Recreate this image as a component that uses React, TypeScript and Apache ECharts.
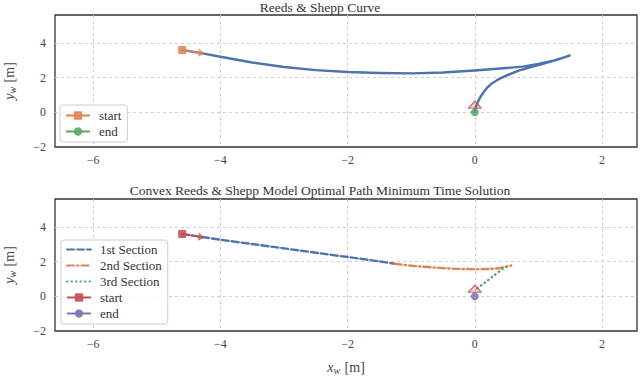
import React, { useEffect, useRef } from "react";
import * as echarts from "echarts";

// ---- data ----
const topCurveX = [-4.6, -4.3, -4.0, -3.5, -3.0, -2.5, -2.0, -1.5, -1.0, -0.5, 0.0, 0.25, 0.5, 0.75, 1.0, 1.25, 1.49, 1.3, 1.1, 0.9, 0.7, 0.5, 0.38, 0.28, 0.2, 0.14, 0.09, 0.05, 0.02, 0.005, 0.0];
const topCurveY = [3.6, 3.42, 3.21, 2.88, 2.62, 2.44, 2.33, 2.27, 2.25, 2.3, 2.42, 2.49, 2.56, 2.64, 2.79, 3.0, 3.28, 3.04, 2.83, 2.63, 2.42, 2.13, 1.92, 1.7, 1.45, 1.17, 0.9, 0.62, 0.35, 0.15, 0.0];

const sec1X = [-4.6, -4.3, -4.0, -3.5, -3.0, -2.5, -2.0, -1.5, -1.26];
const sec1Y = [3.6, 3.43, 3.27, 3.02, 2.77, 2.52, 2.27, 2.02, 1.88];
const sec2X = [-1.26, -1.0, -0.5, 0.0, 0.2, 0.4, 0.57];
const sec2Y = [1.88, 1.77, 1.63, 1.57, 1.58, 1.64, 1.78];
const sec3X = [0.5, 0.44, 0.3, 0.15, 0.0];
const sec3Y = [1.72, 1.6, 1.2, 0.77, 0.38];

const startPoint = [-4.6, 3.6];
const startHeading = [-4.3, 3.42];
const endPoint = [0, 0];
const endHeading = [0, 0.44];

const titles = ["Reeds & Shepp Curve", "Convex Reeds & Shepp Model Optimal Path Minimum Time Solution"];
const topLegend = ["start", "end"];
const bottomLegend = ["1st Section", "2nd Section", "3rd Section", "start_b", "end_b"];
const lineOnlyLegend = ["1st Section", "2nd Section", "3rd Section"];

const C = { blue: "#4C72B0", orange: "#DD8452", green: "#55A868", red: "#C44E52", purple: "#8172B3" };
const FONT = "'Liberation Serif', serif";

const zip = (xs: number[], ys: number[]) => xs.map((x, i) => [x, ys[i]]);
const minus = (v: number) => String(v).replace("-", "\u2212");

export default function App() {
  const ref = useRef<HTMLDivElement>(null);
  useEffect(() => {
    const theme = {
      textStyle: { fontFamily: FONT },
      legend: { textStyle: { fontFamily: FONT, fontSize: 13, color: "#333" } },
    };
    const chart = echarts.init(ref.current!, theme as any, { renderer: "svg" });
    const gridBase = {
      left: 55,
      width: 582,
      height: 132,
      show: true,
      borderColor: "#333",
      borderWidth: 1.3,
      backgroundColor: "#fff",
      containLabel: false,
      outerBoundsMode: "none",
    };
    const splitLine = { show: true, showMinLine: false, showMaxLine: false, lineStyle: { type: [3, 3], color: "#cfcfcf", width: 1 } };
    const label = { fontFamily: FONT, fontSize: 12, color: "#444", formatter: minus, showMinLabel: false, showMaxLabel: false };
    const nameStyle = {
      fontFamily: FONT,
      fontSize: 14,
      color: "#444",
      rich: {
        i: { fontFamily: FONT, fontSize: 14, fontStyle: "italic", color: "#444" },
        s: { fontFamily: FONT, fontSize: 10, fontStyle: "italic", color: "#444", padding: [6, 1, 0, 0] },
      },
    };
    const xAxisBase = (gi: number) => ({
      type: "value",
      gridIndex: gi,
      min: -6.6,
      max: 2.55,
      splitNumber: 5,
      axisLine: { show: false },
      axisTick: { show: false },
      axisLabel: { ...label, margin: 7 },
      splitLine,
    });
    const yAxisBase = (gi: number) => ({
      type: "value",
      gridIndex: gi,
      min: -2,
      max: 5.62,
      splitNumber: 4,
      axisLine: { show: false },
      axisTick: { show: false },
      axisLabel: { ...label, margin: 9, showMinLabel: true },
      splitLine,
      name: "{i|y}{s|w} [m]",
      nameLocation: "middle",
      nameGap: 38,
      nameRotate: 90,
      nameTextStyle: nameStyle,
    });
    const legendText = {
      fontFamily: FONT,
      fontSize: 13,
      color: "#333",
      lineHeight: 13,
      rich: { t: { fontFamily: FONT, fontSize: 13, color: "#333", lineHeight: 13, padding: [0, 0, 0, 4] } },
    };
    const legendBase = {
      orient: "vertical",
      itemWidth: 24,
      itemHeight: 8,
      itemGap: 3,
      backgroundColor: "rgba(255,255,255,0.85)",
      borderColor: "#cccccc",
      borderWidth: 1,
      borderRadius: 3,
      textStyle: legendText,
      formatter: (n: string) => "{t|" + n.replace("_b", "") + "}",
    };
    const legendData = (names: string[]) =>
      names.map((n) =>
        lineOnlyLegend.includes(n)
          ? { name: n, itemStyle: { opacity: 0 }, textStyle: legendText }
          : { name: n, textStyle: legendText }
      );
    const line = (name: string, data: number[][], gi: number, color: string, lineType: any, smooth: number) => ({
      type: "line",
      name,
      data,
      xAxisIndex: gi,
      yAxisIndex: gi,
      symbol: "none",
      smooth,
      lineStyle: { color, width: 2.4, type: lineType, cap: "round", join: "round" },
      itemStyle: { color },
      z: 3,
    });
    const startSeries = (name: string, gi: number, color: string) => ({
      type: "line",
      name,
      xAxisIndex: gi,
      yAxisIndex: gi,
      symbol: "rect",
      symbolSize: 7,
      lineStyle: { color, width: 1.5 },
      itemStyle: { color, opacity: 0.85, borderColor: color, borderWidth: 1 },
      z: 5,
      data: [
        { value: startPoint },
        { value: startHeading, symbol: "triangle", symbolSize: [7, 5], symbolRotate: -99, itemStyle: { opacity: 0.6 } },
      ],
    });
    const endSeries = (name: string, gi: number, color: string) => ({
      type: "line",
      name,
      xAxisIndex: gi,
      yAxisIndex: gi,
      symbol: "circle",
      symbolSize: 7,
      lineStyle: { color, width: 1.5 },
      itemStyle: { color, opacity: 0.85, borderColor: color, borderWidth: 1 },
      z: 5,
      data: [endPoint],
    });
    const arrow = (gi: number) => ({
      type: "scatter",
      name: "arrow" + gi,
      xAxisIndex: gi,
      yAxisIndex: gi,
      symbol: "triangle",
      symbolSize: [13, 7],
      itemStyle: { color: "rgba(196,78,82,0.3)", borderColor: C.red, borderWidth: 1.2 },
      z: 4,
      data: [endHeading],
    });
    const titleStyle = { fontFamily: FONT, fontSize: 13.5, fontWeight: "normal", color: "#333" };

    chart.setOption({
      animation: false,
      backgroundColor: "#fff",
      textStyle: { fontFamily: FONT },
      title: [
        { text: titles[0], left: "center", top: 0, padding: 0, textStyle: titleStyle },
        { text: titles[1], left: "center", top: 183, padding: 0, textStyle: titleStyle },
      ],
      grid: [
        { ...gridBase, top: 15 },
        { ...gridBase, top: 199 },
      ],
      xAxis: [
        xAxisBase(0),
        { ...xAxisBase(1), name: "{i|x}{s|w} [m]", nameLocation: "middle", nameGap: 28, nameTextStyle: nameStyle },
      ],
      yAxis: [yAxisBase(0), yAxisBase(1)],
      legend: [
        { ...legendBase, left: 60, top: 105, padding: [4, 6, 4, 5], data: legendData(topLegend) },
        { ...legendBase, left: 61, top: 240, padding: [3, 6, 4, 5], data: legendData(bottomLegend) },
      ],
      series: [
        line("path", zip(topCurveX, topCurveY), 0, C.blue, "solid", 0),
        startSeries("start", 0, C.orange),
        endSeries("end", 0, C.green),
        arrow(0),
        line("1st Section", zip(sec1X, sec1Y), 1, C.blue, [7, 3], 0.3),
        line("2nd Section", zip(sec2X, sec2Y), 1, C.orange, [7, 3, 1.5, 3], 0.3),
        line("3rd Section", zip(sec3X, sec3Y), 1, C.green, [0.5, 4], 0.3),
        startSeries("start_b", 1, C.red),
        endSeries("end_b", 1, C.purple),
        arrow(1),
      ],
    } as any);
    return () => chart.dispose();
  }, []);
  return <div ref={ref} style={{ position: "fixed", left: 0, top: 0, width: 640, height: 377 }} />;
}
